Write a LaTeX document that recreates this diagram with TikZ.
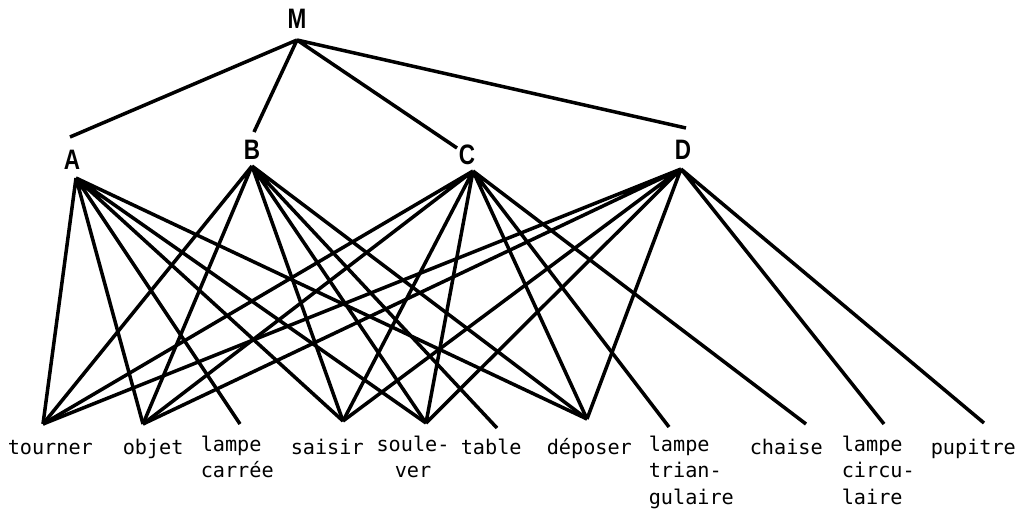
\documentclass[tikz,border=0pt]{standalone}
\usepackage{fontspec}
\setmonofont{DejaVu Sans Mono}
\newfontfamily\headfont[FakeStretch=0.8]{Liberation Sans}
\usepackage{tikz}
\usetikzlibrary{positioning}

\begin{document}
\begin{tikzpicture}[x=0.02cm, y=-0.02cm, line width=2pt,
    head/.style={font=\headfont\bfseries\fontsize{16}{16}\selectfont, inner sep=0pt},
    word/.style={font=\ttfamily\fontsize{11.5}{15.2}\selectfont, anchor=north west, align=left, inner sep=0pt,
        execute at begin node=\strut}]
    \useasboundingbox (0,0) rectangle (1031,512);

    % top and middle level
    \node (M) [head] at (297,19) {M};
    \node (A) [head] at (72,160) {A};
    \node (B) [head] at (252,150) {B};
    \node (C) [head] at (467,155) {C};
    \node (D) [head] at (683,150) {D};
    \coordinate (M-v) at (297,40);
    \coordinate (A-t) at (70,137);  \coordinate (A-v) at (76,178);
    \coordinate (B-t) at (254,132); \coordinate (B-v) at (252,166);
    \coordinate (C-t) at (457,148); \coordinate (C-v) at (473,171);
    \coordinate (D-t) at (686,128); \coordinate (D-v) at (681,169);

    % bottom level
    \coordinate (tourner) at (43,424);
    \coordinate (objet) at (143,424);
    \coordinate (carree) at (240,424);
    \coordinate (saisir) at (343,421);
    \coordinate (soulever) at (426,423);
    \coordinate (table) at (497,428);
    \coordinate (deposer) at (587,419);
    \coordinate (triang) at (669,427);
    \coordinate (chaise) at (806,424);
    \coordinate (circ) at (884,424);
    \coordinate (pupitre) at (984,423);

    \node (w-tourner) [word] at (6,434) {tourner};
    \node (w-objet) [word] at (121,434) {objet};
    \node (w-carree) [word] at (199,434) {lampe\\carrée};
    \node (w-saisir) [word] at (289,434) {saisir};
    \node (w-soulever) [word, anchor=north, align=center] at (413,434) {soule-\\ver};
    \node (w-table) [word] at (459,434) {table};
    \node (w-deposer) [word] at (545,434) {déposer};
    \node (w-triang) [word] at (647,434) {lampe\\trian-\\gulaire};
    \node (w-chaise) [word] at (748,434) {chaise};
    \node (w-circ) [word] at (840,434) {lampe\\circu-\\laire};
    \node (w-pupitre) [word] at (929,434) {pupitre};

    \draw (M-v) -- (A-t) (M-v) -- (B-t) (M-v) -- (C-t) (M-v) -- (D-t);
    \draw (A-v) -- (tourner) (A-v) -- (objet) (A-v) -- (carree) (A-v) -- (saisir) (A-v) -- (soulever) (A-v) -- (deposer);
    \draw (B-v) -- (tourner) (B-v) -- (objet) (B-v) -- (saisir) (B-v) -- (soulever) (B-v) -- (table) (B-v) -- (deposer);
    \draw (C-v) -- (tourner) (C-v) -- (objet) (C-v) -- (saisir) (C-v) -- (soulever) (C-v) -- (deposer) (C-v) -- (triang) (C-v) -- (chaise);
    \draw (D-v) -- (tourner) (D-v) -- (objet) (D-v) -- (saisir) (D-v) -- (soulever) (D-v) -- (deposer) (D-v) -- (circ) (D-v) -- (pupitre);
\end{tikzpicture}
\end{document}
